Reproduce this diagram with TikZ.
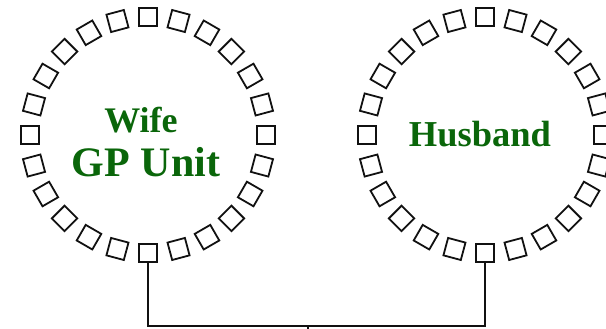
\documentclass[tikz,border=0pt]{standalone}
\usepackage{fontspec}
\setmainfont{Liberation Serif}
\usepackage{tikz}
\usepackage{xcolor}
\usetikzlibrary{positioning,calc}
\definecolor{ink}{HTML}{111111}
\definecolor{gpgreen}{HTML}{0A660A}
\tikzset{
  seat/.style={
    draw=ink, line width=1.8pt, inner sep=0pt,
    minimum size=18pt
  },
  partner/.style={
    text=gpgreen, inner sep=0pt, font=\bfseries
  },
  link/.style={draw=ink, line width=1.5pt}
}

\begin{document}
\begin{tikzpicture}[x=1pt,y=1pt]
  \useasboundingbox (0,0) rectangle (606,329);
  \coordinate (wife) at (148,194);
  \coordinate (husband) at (485,194);
  \foreach \k in {0,...,23} {
    \node[seat,rotate=\k*15] (w\k) at ($(wife)+(\k*15-90:118)$) {};
    \node[seat,rotate=\k*15] (h\k) at ($(husband)+(\k*15-90:118)$) {};
  }
  \node[partner,font=\bfseries\fontsize{36}{36}\selectfont] (wifelabel) at (141,209) {Wife};
  \node[partner,font=\bfseries\fontsize{42}{42}\selectfont,below=14pt of wifelabel,xshift=5pt] (gpunit) {GP Unit};
  \node[partner,font=\bfseries\fontsize{36.5}{36.5}\selectfont] (husbandlabel) at (480,195) {Husband};
  \coordinate (bus) at (308,3);
  \coordinate (kid) at (308,-10);
  \draw[link] (w0.south) |- (bus) -| (h0.south);
  \draw[link] (bus) -- (kid);
\end{tikzpicture}
\end{document}
